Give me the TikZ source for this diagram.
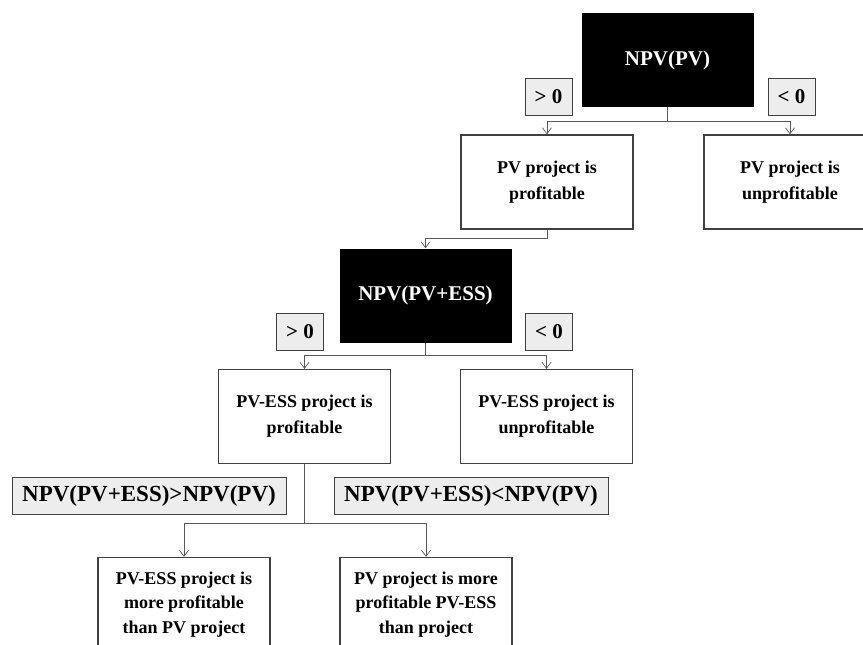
\documentclass[tikz,border=0pt]{standalone}
\usepackage{fontspec}
\setmainfont{Liberation Serif}
\usetikzlibrary{arrows.meta}

\tikzset{
  decision/.style={fill=black, text=white, font=\bfseries\fontsize{21}{25}\selectfont,
    minimum width=172pt, minimum height=94pt, inner sep=0pt},
  outcome/.style={draw=black!75, line width=1.3pt, fill=white, align=center,
    font=\bfseries\fontsize{18}{26}\selectfont,
    minimum width=172pt, minimum height=94pt, inner sep=0pt},
  cond/.style={draw=black!75, line width=1pt, fill=black!7,
    font=\bfseries\fontsize{21}{25}\selectfont, minimum height=37pt, inner sep=0pt},
  link/.style={draw=black!65, line width=0.8pt, -{Straight Barb[length=6pt,width=9pt,line width=0.7pt]}}
}

\begin{document}
\begin{tikzpicture}[x=1pt,y=-1pt]
\useasboundingbox (0,0) rectangle (863,645);
\clip (0,0) rectangle (863,645);

%% premier test
\node[decision] (npvpv) at (667.5,60) {NPV(PV)};
\node[cond, minimum width=47pt] (pos1) at (548.5,96.5) {> 0};
\node[cond, minimum width=47pt] (neg1) at (791.5,96.5) {< 0};

\node[outcome] (pvprof) at (547,182) {PV project is\\profitable};
\node[outcome] (pvunprof) at (790,182) {PV project is\\unprofitable};

%% second test
\node[decision] (npvess) at (425.5,295.5) {NPV(PV+ESS)};
\node[cond, minimum width=47pt] (pos2) at (300,332) {> 0};
\node[cond, minimum width=47pt] (neg2) at (549,332) {< 0};

\node[outcome] (essprof) at (304.5,416.5) {PV-ESS project is\\profitable};
\node[outcome] (essunprof) at (546.5,416.5) {PV-ESS project is\\unprofitable};

%% comparaison
\node[cond, minimum width=274pt, font=\bfseries\fontsize{23}{27}\selectfont] (more) at (149,495.5) {NPV(PV+ESS)>NPV(PV)};
\node[cond, minimum width=274pt, font=\bfseries\fontsize{23}{27}\selectfont] (less) at (471,495.5) {NPV(PV+ESS)<NPV(PV)};

\node[outcome, font=\bfseries\fontsize{18}{24.5}\selectfont] (essbetter) at (184,604.5) {PV-ESS project is\\more profitable\\than PV project};
\node[outcome, font=\bfseries\fontsize{18}{24.5}\selectfont] (pvbetter) at (426,604.5) {PV project is more\\profitable PV-ESS\\than project};

%% les fleches
\draw[link] (npvpv.south) -- ++(0,14) -| (pvprof.north);
\draw[link] (npvpv.south) -- ++(0,14) -| (pvunprof.north);
\draw[link] (pvprof.south) -- ++(0,9) -| (npvess.north);
\draw[link] (npvess.south) -- ++(0,13) -| (essprof.north);
\draw[link] (npvess.south) -- ++(0,13) -| (essunprof.north);
\draw[link] (essprof.south) -- ++(0,59) -| (essbetter.north);
\draw[link] (essprof.south) -- ++(0,59) -| (pvbetter.north);

\end{tikzpicture}
\end{document}
